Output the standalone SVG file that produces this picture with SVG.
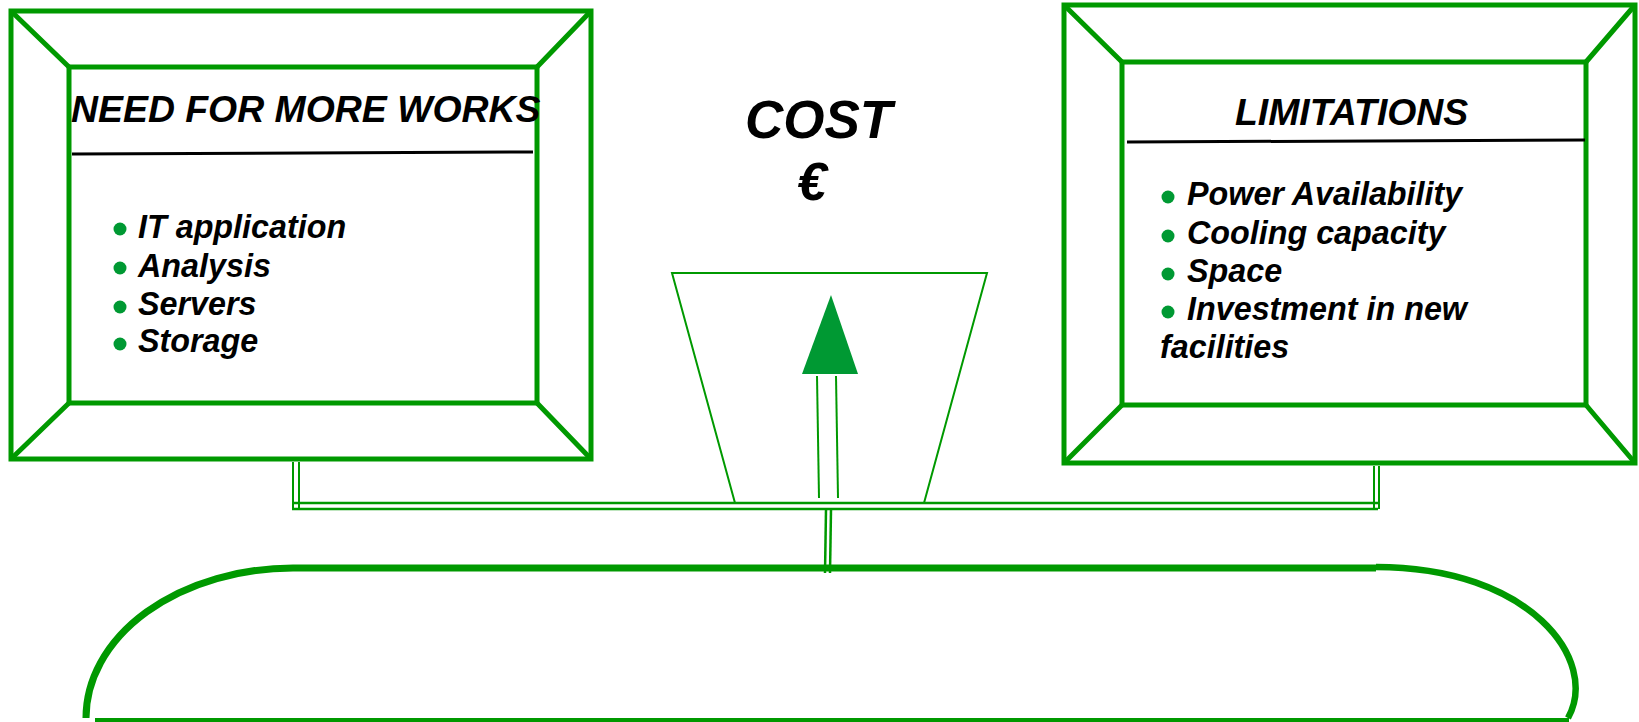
<svg xmlns="http://www.w3.org/2000/svg" width="1639" height="722" viewBox="0 0 1639 722">
<style>
.g{stroke:#009900;fill:none}
.frame{stroke:#009900;stroke-width:5;fill:none}
.rule{stroke:#000;stroke-width:3}
.dot{fill:#009933}
.t{font-family:"Liberation Sans",Arial,sans-serif;font-weight:bold;font-style:italic;fill:#000}
.title{font-size:37.4px}
.item{font-size:32.3px}
.cost{font-size:53px}
</style>
<rect width="1639" height="722" fill="#fff"/>
<g id="need-box">
<rect class="frame" x="11" y="11" width="580" height="448"/>
<rect class="frame" x="69" y="67" width="468" height="336"/>
<path class="frame" d="M11 11L69 67M591 11L537 67M11 459L69 403M591 459L537 403"/>
<text class="t title" x="71" y="122">NEED FOR MORE WORKS</text>
<line class="rule" x1="72" y1="154" x2="533" y2="152"/>
<circle class="dot" cx="120" cy="229" r="6.5"/>
<circle class="dot" cx="120" cy="268" r="6.5"/>
<circle class="dot" cx="120" cy="307" r="6.5"/>
<circle class="dot" cx="120" cy="344" r="6.5"/>
<text class="t item" x="138" y="238">IT application</text>
<text class="t item" x="138" y="277">Analysis</text>
<text class="t item" x="138" y="315">Servers</text>
<text class="t item" x="138" y="352">Storage</text>
</g>
<g id="limitations-box">
<rect class="frame" x="1064" y="5" width="571" height="458"/>
<rect class="frame" x="1122" y="62" width="464" height="343"/>
<path class="frame" d="M1064 5L1122 62M1635 5L1586 62M1064 463L1122 405M1635 463L1586 405"/>
<text class="t title" x="1235" y="125">LIMITATIONS</text>
<line class="rule" x1="1127" y1="142" x2="1585" y2="140"/>
<circle class="dot" cx="1168" cy="197" r="6.5"/>
<circle class="dot" cx="1168" cy="236" r="6.5"/>
<circle class="dot" cx="1168" cy="274" r="6.5"/>
<circle class="dot" cx="1168" cy="312" r="6.5"/>
<text class="t item" x="1187" y="205">Power Availability</text>
<text class="t item" x="1187" y="244">Cooling capacity</text>
<text class="t item" x="1187" y="282">Space</text>
<text class="t item" x="1187" y="320">Investment in new</text>
<text class="t item" x="1160" y="358">facilities</text>
</g>
<g id="cost">
<text class="t cost" x="745" y="138">COST</text>
<text class="t cost" x="812" y="200" text-anchor="middle">€</text>
</g>
<g id="pan">
<polygon class="g" stroke-width="2" points="672,273 987,273 924,503 735,503"/>
<polygon class="dot" points="831,295 802,374 858,374"/>
<line class="g" stroke-width="2" x1="817" y1="376" x2="819" y2="498"/>
<line class="g" stroke-width="2" x1="836" y1="376" x2="838" y2="498"/>
</g>
<g id="connectors">
<line class="g" stroke-width="2.5" x1="292" y1="503" x2="1378" y2="503"/>
<line class="g" stroke-width="2.5" x1="292" y1="509" x2="1378" y2="509"/>
<line class="g" stroke-width="2" x1="293" y1="462" x2="293" y2="508"/>
<line class="g" stroke-width="2" x1="299" y1="462" x2="299" y2="508"/>
<line class="g" stroke-width="2" x1="1374" y1="466" x2="1374" y2="509"/>
<line class="g" stroke-width="2" x1="1379" y1="466" x2="1379" y2="509"/>
<line class="g" stroke-width="2.5" x1="826" y1="510" x2="825" y2="573"/>
<line class="g" stroke-width="2.5" x1="831" y1="510" x2="830" y2="573"/>
</g>
<g id="base">
<line class="g" stroke-width="7" x1="293" y1="568" x2="1376" y2="568"/>
<path class="g" stroke-width="7" d="M293 568A207 150 0 0 0 86 718"/>
<path class="g" stroke-width="6.5" d="M1376 567C1530 567 1600 660 1568 718"/>
<line class="g" stroke-width="4" x1="95" y1="720" x2="1569" y2="720"/>
</g>
</svg>
